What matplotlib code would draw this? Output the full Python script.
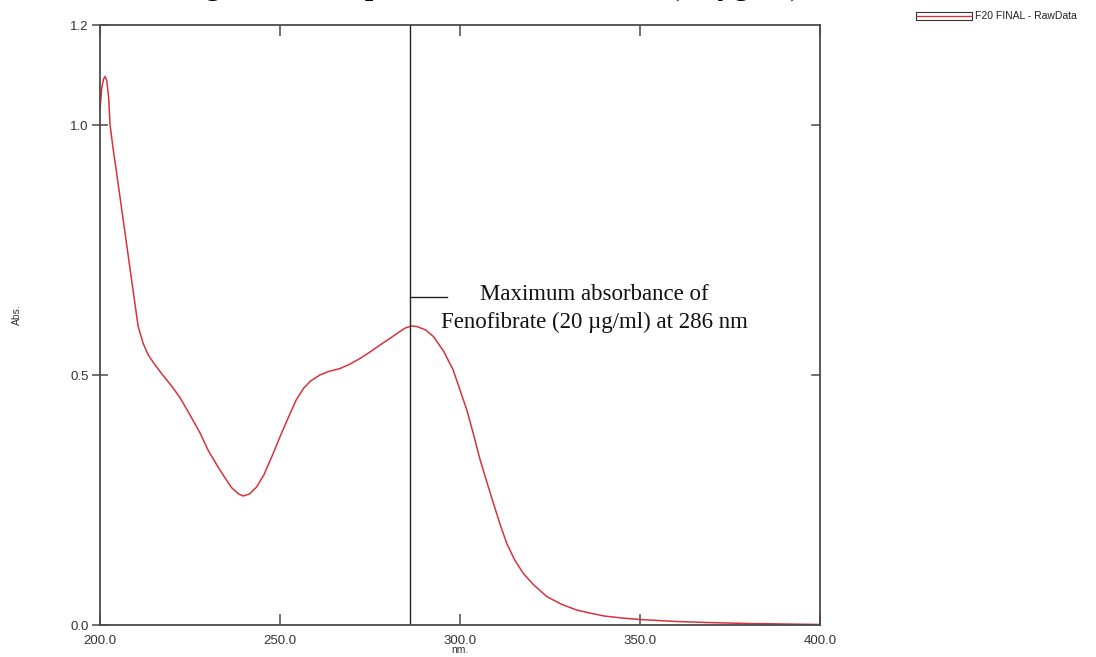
import matplotlib
matplotlib.use("Agg")
import matplotlib.pyplot as plt
from matplotlib.patches import Rectangle
from matplotlib.lines import Line2D

# ---- data ----
wavelength_nm = [200.0, 200.5, 201.0, 201.4, 201.9, 202.4, 202.8, 203.6, 204.6,
                 206.0, 207.4, 208.8, 210.6, 212.0, 213.4, 215.0, 217.1, 220.0,
                 222.2, 225.0, 227.8, 230.0, 233.3, 236.5, 238.5, 239.8, 241.5,
                 243.5, 245.5, 248.1, 250.5, 252.8, 254.5, 256.5, 258.5, 261.1,
                 263.5, 266.7, 269.5, 272.2, 275.0, 277.8, 280.5, 283.3, 284.8,
                 286.5, 288.0, 290.5, 292.6, 295.5, 298.1, 300.0, 301.9, 303.8,
                 305.6, 307.5, 309.3, 311.2, 313.0, 315.2, 317.6, 320.5, 324.1,
                 328.0, 332.4, 336.0, 340.0, 345.0, 350.0, 360.0, 368.5, 380.0,
                 390.0, 400.0]
absorbance = [1.03, 1.075, 1.092, 1.097, 1.088, 1.055, 1.0, 0.955, 0.905,
              0.833, 0.761, 0.689, 0.597, 0.563, 0.540, 0.523, 0.503, 0.477,
              0.455, 0.42, 0.384, 0.35, 0.31, 0.275, 0.262, 0.258, 0.262,
              0.276, 0.30, 0.343, 0.385, 0.423, 0.45, 0.473, 0.488, 0.50,
              0.507, 0.513, 0.522, 0.533, 0.546, 0.56, 0.573, 0.587, 0.594,
              0.598, 0.597, 0.59, 0.577, 0.547, 0.51, 0.47, 0.43, 0.38,
              0.33, 0.285, 0.243, 0.20, 0.163, 0.13, 0.103, 0.08, 0.057,
              0.042, 0.030, 0.024, 0.018, 0.014, 0.011, 0.007, 0.005, 0.003,
              0.002, 0.001]
x_ticks = [200, 250, 300, 350, 400]
x_tick_labels = ["200.0", "250.0", "300.0", "350.0", "400.0"]
y_ticks = [0.0, 0.5, 1.0, 1.2]
y_tick_labels = ["0.0", "0.5", "1.0", "1.2"]
lambda_max = 286
series_name = "F20 FINAL - RawData"
title_text = "Figure 2: UV spectrum of Fenofibrate (20 \u00b5g/ml)"
annot_line1 = "Maximum absorbance of"
annot_line2 = "Fenofibrate (20 \u00b5g/ml) at 286 nm"

W, H = 1096, 657
fig = plt.figure(figsize=(W / 100, H / 100), dpi=100)
ax = fig.add_axes([100 / W, 1 - 625 / H, 720 / W, 600 / H])

red = "#d8323c"
axcol = "#4a4a4a"
sans = "Liberation Sans"
serif = "Liberation Serif"

ax.plot(wavelength_nm, absorbance, color=red, lw=1.1)
ax.set_xlim(200, 400)
ax.set_ylim(0, 1.2)

for s in ax.spines.values():
    s.set_color(axcol)
    s.set_linewidth(1.3)

ax.set_xticks(x_ticks)
ax.set_xticklabels(x_tick_labels, fontfamily=sans, fontsize=9.5, color="#333333")
ax.set_yticks(y_ticks)
ax.set_yticklabels(y_tick_labels, fontfamily=sans, fontsize=9.5, color="#333333")
ax.tick_params(axis="x", direction="in", length=8, width=1.1, color=axcol,
               top=True, pad=7)
ax.tick_params(axis="y", direction="inout", length=12, width=1.1, color=axcol,
               right=False, pad=2)
# right-side inward ticks
for yv in [0.5, 1.0]:
    ax.plot([400 - 8 / 3.6, 400], [yv, yv], color=axcol, lw=1.1,
            clip_on=False)

# vertical marker at lambda max and leader line
ax.axvline(lambda_max, color="#222222", lw=1.0)
ax.plot([lambda_max, lambda_max + 37 / 3.6], [0.656, 0.656],
        color="#222222", lw=1.0)

# annotation text
fig.text(594 / W, 1 - 300 / H, annot_line1, ha="center", va="baseline",
         fontfamily=serif, fontsize=16.5, color="#111111")
fig.text(594 / W, 1 - 328 / H, annot_line2, ha="center", va="baseline",
         fontfamily=serif, fontsize=16.5, color="#111111")

# axis labels
fig.text(17 / W, 1 - 315 / H, "Abs.", rotation=90, ha="center", va="center",
         fontfamily=sans, fontsize=7.5, color="#333333")
fig.text(460 / W, 1 - 650 / H, "nm.", ha="center", va="center",
         fontfamily=sans, fontsize=7.5, color="#333333")

# legend (top right)
fig.add_artist(Rectangle((916 / W, 1 - 20 / H), 56 / W, 8 / H,
                         transform=fig.transFigure, fill=False,
                         edgecolor="#333333", lw=0.8))
fig.add_artist(Line2D([917 / W, 971 / W], [1 - 16 / H, 1 - 16 / H],
                      transform=fig.transFigure, color=red, lw=1.0))
fig.text(975 / W, 1 - 16 / H, series_name, ha="left", va="center",
         fontfamily=sans, fontsize=7.5, color="#222222")

# title (mostly cut off at the top edge as in the reference)
fig.text(490 / W, 1 + 5.5 / H, title_text, ha="center", va="baseline",
         fontfamily=serif, fontweight="bold", fontsize=21.5, color="black")

fig.savefig("out.png", dpi=100)
